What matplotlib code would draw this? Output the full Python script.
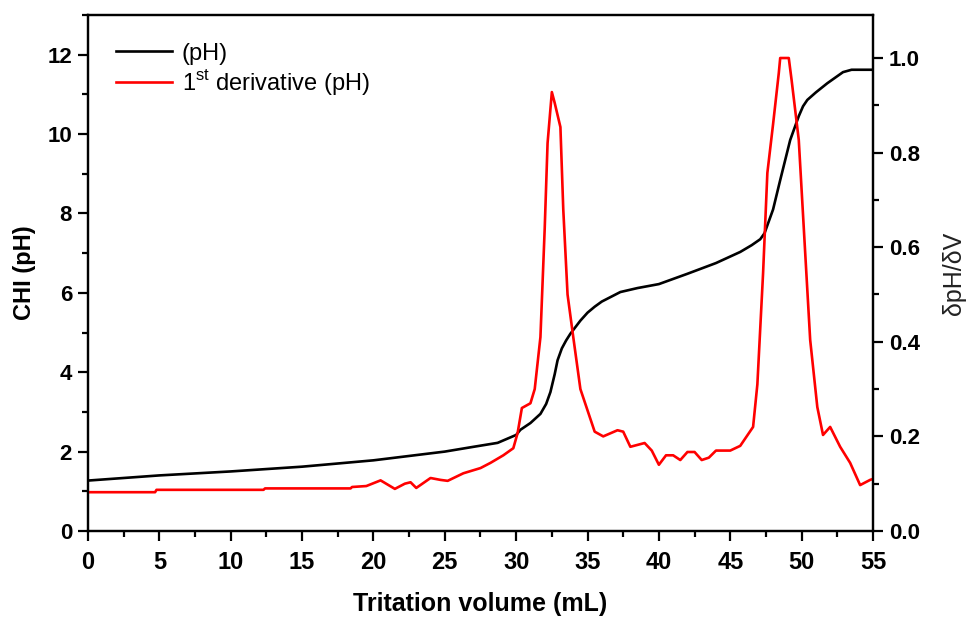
import numpy as np
import matplotlib
matplotlib.use("Agg")
import matplotlib.pyplot as plt
from matplotlib.ticker import MultipleLocator, FormatStrFormatter

plt.rcParams['font.family'] = ['Liberation Sans', 'DejaVu Sans']
plt.rcParams['mathtext.fontset'] = 'custom'
plt.rcParams['mathtext.rm'] = 'Liberation Sans'

# titration curve (pH vs volume)
vol_ph = [0, 5, 10, 15, 20, 25, 27, 28.7, 30, 30.3, 31, 31.7, 32.1, 32.4, 32.7,
          32.9, 33.2, 33.5, 33.8, 34.5, 35, 35.5, 36, 37.3, 38.5, 40, 42, 44,
          45.7, 46.5, 47.1, 47.4, 48, 48.5, 49.2, 49.8, 50.1, 50.4, 51, 51.8,
          52.9, 53.5, 54.8, 55]
ph = [1.27, 1.4, 1.5, 1.62, 1.78, 2.0, 2.12, 2.22, 2.42, 2.55, 2.72, 2.95, 3.2,
      3.5, 3.95, 4.3, 4.6, 4.8, 4.97, 5.3, 5.5, 5.65, 5.78, 6.02, 6.12, 6.22,
      6.48, 6.75, 7.03, 7.2, 7.35, 7.5, 8.1, 8.84, 9.85, 10.45, 10.7, 10.86,
      11.05, 11.28, 11.56, 11.62, 11.62, 11.62]

# first derivative dpH/dV
vol_d = [0, 4.7, 4.8, 12.3, 12.4, 18.4, 18.5, 19.5, 20.5, 21.5,
         22.2, 22.6, 23.0, 24.0, 24.7, 25.2, 26.3, 27.5, 28.2, 29.1,
         29.8, 30.1, 30.4, 31.0, 31.3, 31.7, 32.0, 32.2, 32.5, 32.7,
         33.1, 33.3, 33.6, 34.0, 34.5, 35.5, 36.1, 37.1, 37.5, 38.0,
         39.0, 39.5, 40.0, 40.5, 41.0, 41.5, 42.0, 42.5, 43.0, 43.5,
         44.0, 45.0, 45.7, 46.6, 46.9, 47.3, 47.6, 48.0, 48.4, 48.5,
         49.1, 49.3, 49.8, 50.2, 50.6, 51.1, 51.5, 52.0, 52.7, 53.4,
         54.1, 54.8, 55]
dph = [0.082, 0.082, 0.087, 0.087, 0.09, 0.09, 0.093, 0.095, 0.107, 0.089,
       0.1, 0.103, 0.091, 0.112, 0.108, 0.106, 0.122, 0.133, 0.144, 0.16,
       0.175, 0.207, 0.26, 0.27, 0.30, 0.41, 0.64, 0.82, 0.928, 0.905,
       0.854, 0.68, 0.50, 0.41, 0.30, 0.21, 0.2, 0.213, 0.21, 0.178,
       0.186, 0.17, 0.14, 0.16, 0.16, 0.15, 0.167, 0.167, 0.15, 0.155,
       0.17, 0.17, 0.18, 0.22, 0.31, 0.545, 0.757, 0.86, 0.968, 1.0,
       1.0, 0.953, 0.827, 0.615, 0.404, 0.262, 0.203, 0.22, 0.178, 0.144,
       0.097, 0.108, 0.11]

fig = plt.figure(figsize=(9.66, 6.19), dpi=100)
ax = fig.add_axes([0.0911, 0.1422, 0.8126, 0.8336])
ax2 = ax.twinx()

l1, = ax.plot(vol_ph, ph, color='black', lw=1.9, label='(pH)')
l2, = ax2.plot(vol_d, dph, color='#ff0000', lw=1.9,
               label=r'1$^{\mathregular{st}}$ derivative (pH)')

ax.set_xlim(0, 55)
ax.set_ylim(0, 13)
ax2.set_ylim(0, 1.091)

ax.xaxis.set_major_locator(MultipleLocator(5))
ax.xaxis.set_minor_locator(MultipleLocator(2.5))
ax.yaxis.set_minor_locator(MultipleLocator(1))
ax.set_yticks(range(0, 13, 2))
ax2.yaxis.set_minor_locator(MultipleLocator(0.1))
ax2.yaxis.set_major_formatter(FormatStrFormatter('%.1f'))
ax2.set_yticks([0, 0.2, 0.4, 0.6, 0.8, 1.0])

for a in (ax, ax2):
    for s in a.spines.values():
        s.set_linewidth(1.6)
ax.tick_params(axis='both', which='major', direction='out', length=7.5, width=1.6,
               labelsize=16, pad=4)
ax.tick_params(axis='both', which='minor', direction='out', length=4.5, width=1.6)
ax.tick_params(axis='x', labelsize=17, pad=7)
ax2.tick_params(axis='y', which='major', direction='out', length=7.5, width=1.6,
                labelsize=16, pad=4)
ax2.tick_params(axis='y', which='minor', direction='out', length=4.5, width=1.6)
for lab in ax.get_xticklabels() + ax.get_yticklabels() + ax2.get_yticklabels():
    lab.set_fontweight('bold')

ax.set_xlabel('Tritation volume (mL)', fontsize=18, fontweight='bold', labelpad=13)
ax.set_ylabel('CHI (pH)', fontsize=17, fontweight='bold', labelpad=8)
ax2.set_ylabel('δpH/δV', fontsize=18, color='#222222', labelpad=16)

ax.legend(handles=[l1, l2], loc='upper left', bbox_to_anchor=(0.0, 1.0),
          frameon=False, fontsize=17, handlelength=2.4, handletextpad=0.4,
          labelspacing=0.1, borderaxespad=0.77)

fig.savefig('out.png', dpi=100)
